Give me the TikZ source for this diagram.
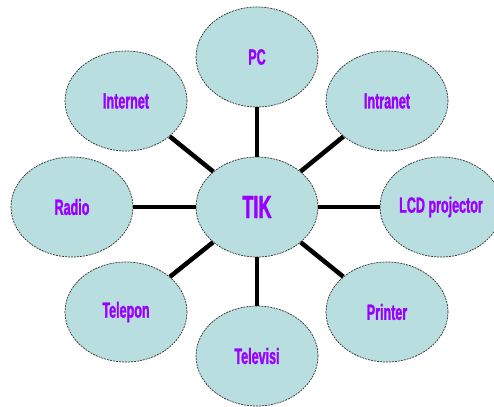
\documentclass[tikz,border=0pt]{standalone}
\usepackage{fontspec}
\setmainfont{Liberation Sans}[FakeStretch=0.57, BoldFeatures={FakeBold=1.2}]
\usetikzlibrary{shapes.geometric}

\definecolor{bubblefill}{RGB}{184,222,224}
\definecolor{labelpurple}{RGB}{153,0,255}

\begin{document}
\begin{tikzpicture}[
    x=1pt, y=-1pt,
    bubble/.style={
        ellipse, draw=black!80, fill=bubblefill, line width=0.7pt,
        dash pattern=on 2pt off 1pt, minimum width=122pt, minimum height=100pt,
        inner sep=0pt, font=\fontsize{22}{24}\selectfont\bfseries, text=labelpurple
    },
    hub/.style={
        bubble, font=\fontsize{32}{34}\selectfont\bfseries
    },
    link/.style={
        line width=4.5pt, draw=black
    }
]
    \useasboundingbox (0,0) rectangle (494,406);

    % Center node
    \node[hub] (tik) at (257,207) {TIK};

    % Outer nodes
    \node[bubble] (pc)       at (257,57)  {PC};
    \node[bubble] (internet) at (126,101) {Internet};
    \node[bubble] (intranet) at (387,101) {Intranet};
    \node[bubble] (radio)    at (72,207)  {Radio};
    \node[bubble] (lcd)      at (441,207) {LCD projector};
    \node[bubble] (telepon)  at (126,312) {Telepon};
    \node[bubble] (printer)  at (387,312) {Printer};
    \node[bubble] (televisi) at (257,356) {Televisi};

    % Spokes
    \foreach \n in {pc, internet, intranet, radio, lcd, telepon, printer, televisi}
        \draw[link] (tik) -- (\n);

\end{tikzpicture}
\end{document}
